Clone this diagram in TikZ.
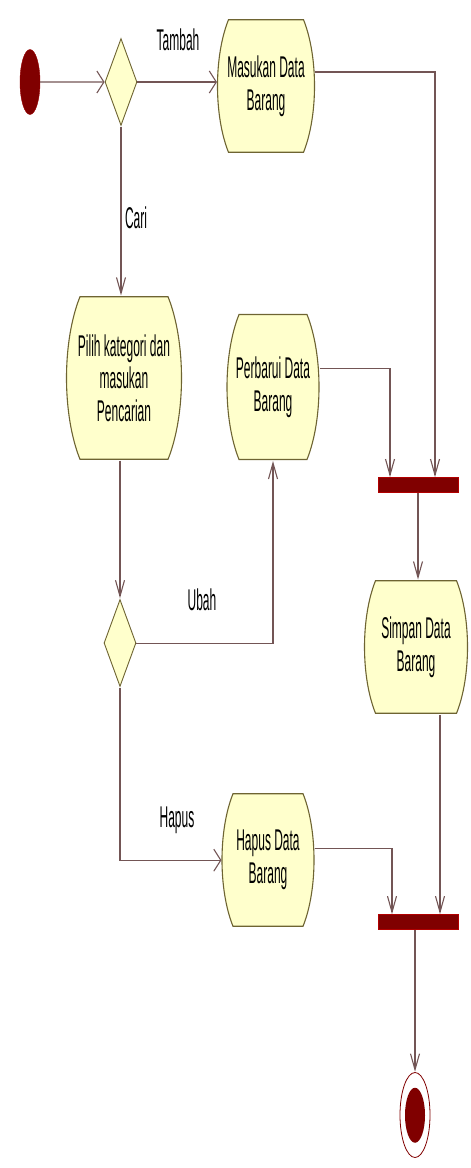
\documentclass[tikz,border=0pt]{standalone}
\usepackage{fontspec}
\setmainfont{Liberation Sans}
\usepackage{tikz}
\usetikzlibrary{shapes,arrows.meta,positioning,calc}
\definecolor{rosered}{RGB}{128,0,0}
\definecolor{actfill}{RGB}{255,255,204}
\definecolor{actline}{RGB}{110,100,50}
\definecolor{flowline}{RGB}{115,85,85}

\begin{document}
\begin{tikzpicture}[x=1pt, y=-0.4pt, yscale=2.5,
	every node/.style={transform shape, font=\fontsize{12}{13}\selectfont},
	action/.style={rounded rectangle, rounded rectangle arc length=90, draw=actline, fill=actfill, line width=1.1pt, align=center, inner xsep=0pt, inner ysep=2pt},
	decision/.style={diamond, draw=actline, fill=actfill, line width=0.9pt, minimum width=32pt, minimum height=35pt, inner sep=0pt},
	syncbar/.style={rectangle, fill=rosered, draw=red!70!black, minimum width=80pt, minimum height=6pt, inner sep=0pt},
	lbl/.style={inner sep=1pt},
	flow/.style={draw=flowline, line width=1.1pt},
	flowv/.style={flow, -{Straight Barb[length=16pt,width=9pt]}},
	flowh/.style={flow, -{Straight Barb[length=7pt,width=22pt]}}]
	\useasboundingbox (0,0) rectangle (470,1168);
	% nodes
	\node[ellipse, fill=rosered, draw=red!60!black, minimum width=20pt, minimum height=26pt, inner sep=0pt] (init) at (30,82) {};
	\node[decision] (dec1) at (121,82) {};
	\node[action, minimum width=97pt, minimum height=53pt] (masukan) at (266,86) {Masukan Data\\Barang};
	\node[action, minimum width=115pt, minimum height=65pt] (pilih) at (124,378) {Pilih kategori dan\\masukan\\Pencarian};
	\node[action, minimum width=92pt, minimum height=58pt] (perbarui) at (273,387) {Perbarui Data\\Barang};
	\node[syncbar] (join1) at (418,485) {};
	\node[action, minimum width=103pt, minimum height=53pt] (simpan) at (416,647) {Simpan Data\\Barang};
	\node[decision] (dec2) at (120,643) {};
	\node[action, minimum width=92pt, minimum height=53pt] (hapus) at (268,860) {Hapus Data\\Barang};
	\node[syncbar] (join2) at (418,922) {};
	\node[ellipse, draw=rosered, fill=white, line width=0.8pt, minimum width=30pt, minimum height=34pt, inner sep=0pt] (final) at (415,1115) {};
	\node[ellipse, fill=rosered, minimum width=20pt, minimum height=22pt, inner sep=0pt] (finalcore) at (final) {};
	% guard labels
	\node[lbl] (ltambah) at (178,40) {Tambah};
	\node[lbl] (lcari) at (136,218) {Cari};
	\node[lbl] (lubah) at (202,600) {Ubah};
	\node[lbl] (lhapus) at (177,820) {Hapus};
	% connectors
	\draw[flowh] (init) -- (dec1);
	\draw[flowh] (dec1.east) -- (dec1.east -| masukan.west);
	\draw[flowv] (dec1.south) -- (dec1.south |- pilih.north);
	\draw[flowv] ($(masukan.east)+(0,-14)$) -| ($(join1.north)+(17,0)$);
	\draw[flowv] ($(perbarui.east)+(0,-19)$) -| ($(join1.north)+(-28,0)$);
	\draw[flowv] (join1.south) -- (join1.south |- simpan.north);
	\draw[flowv] (dec2.north |- pilih.south) -- (dec2.north);
	\draw[flowv] (dec2.east) -| (perbarui.south);
	\draw[flowh] (dec2.south) |- (hapus.west);
	\draw[flowv] ($(hapus.east)+(0,-12)$) -| ($(join2.north)+(-26,0)$);
	\draw[flowv] ($(simpan.south)+(24,0)$) -- ($(join2.north)+(22,0)$);
	\draw[flowv] (join2.south -| final.north) -- (final.north);
\end{tikzpicture}
\end{document}
